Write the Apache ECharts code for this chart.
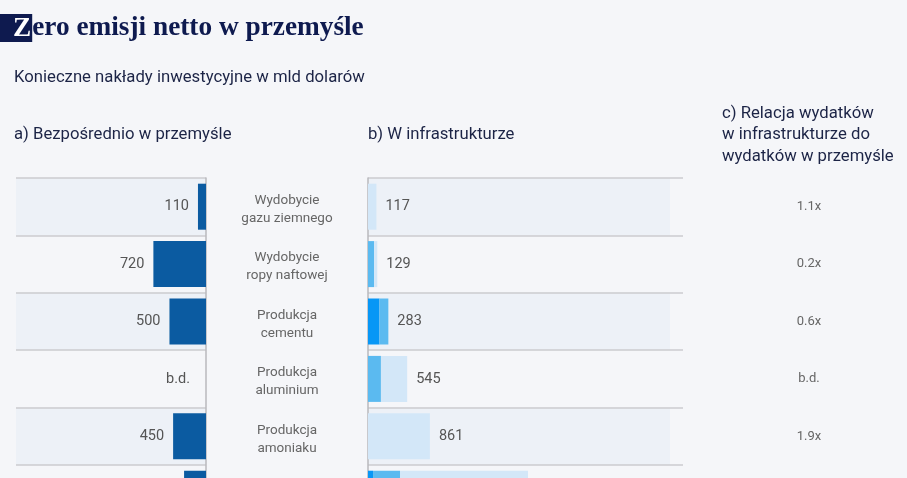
<!DOCTYPE html>
<html>
<head>
<meta charset="utf-8">
<script src="https://cdn.jsdelivr.net/npm/echarts@6/dist/echarts.min.js"></script>
<style>
html,body{margin:0;padding:0;background:#f5f6f9;}
#c{width:907px;height:478px;}
</style>
</head>
<body>
<div id="c"></div>
<script>
// ---- data ----
var categories = ['Wydobycie\ngazu ziemnego', 'Wydobycie\nropy naftowej', 'Produkcja\ncementu', 'Produkcja\naluminium', 'Produkcja\namoniaku', 'Produkcja\nstali'];
var directValues = [110, 720, 500, null, 450, 300];           // a) Bezpośrednio w przemyśle
var infraDark = [0, 0, 160, 0, 0, 70];                          // b) W infrastrukturze – part 1
var infraMedium = [0, 85, 123, 180, 0, 375];                    // part 2
var infraLight = [117, 44, 0, 365, 861, 1780];                  // part 3
var ratioLabels = ['1.1x', '0.2x', '0.6x', 'b.d.', '1.9x', '7.4x']; // c) Relacja

var infraTotals = infraDark.map(function (v, i) { return v + infraMedium[i] + infraLight[i]; });

var NAVY = '#0e1a4f';
var TXT = '#1c2446';
var FONT = 'Roboto';
var BAND = '#edf1f7';
var LINE = '#cbcbcf';
var ROWH = 57.4;
var GTOP = 178;
var GH = ROWH * categories.length; // last row runs past the picture

var chart = echarts.init(document.getElementById('c'));

var leftData = directValues.map(function (v) {
  if (v == null) return { value: 0, label: { formatter: 'b.d.', distance: 16 } };
  return v;
});

var hdr = { fontFamily: FONT, fontWeight: 'normal', fontSize: 16.7, color: TXT };

var option = {
  backgroundColor: '#f5f6f9',
  animation: false,
  title: [
    {
      left: 0, top: 14, padding: 0,
      text: '{z|Z}{t|ero emisji netto w przemyśle}',
      textStyle: {
        rich: {
          z: { fontFamily: 'Liberation Serif', fontWeight: 'bold', fontSize: 27.3, color: '#fff', backgroundColor: NAVY, padding: [1, 1, 0, 13], lineHeight: 28 },
          t: { fontFamily: 'Liberation Serif', fontWeight: 'bold', fontSize: 27.3, color: NAVY, lineHeight: 28 }
        }
      }
    },
    { left: 14, top: 69, padding: 0, text: 'Konieczne nakłady inwestycyjne w mld dolarów', textStyle: hdr },
    { left: 14, top: 126, padding: 0, text: 'a) Bezpośrednio w przemyśle', textStyle: hdr },
    { left: 368, top: 126, padding: 0, text: 'b) W infrastrukturze', textStyle: hdr },
    { left: 722, top: 103, padding: 0, text: 'c) Relacja wydatków\nw infrastrukturze do\nwydatków w przemyśle', textStyle: Object.assign({ lineHeight: 21.5 }, hdr) }
  ],
  grid: [
    { left: 16, top: GTOP, width: 190, height: GH, outerBoundsMode: 'none', containLabel: false },
    { left: 368, top: GTOP, width: 302, height: GH, outerBoundsMode: 'none', containLabel: false },
    { left: 368, top: GTOP, width: 315, height: GH, outerBoundsMode: 'none', containLabel: false }
  ],
  xAxis: [
    { type: 'value', gridIndex: 0, inverse: true, min: 0, max: 2600, show: false },
    { type: 'value', gridIndex: 1, min: 0, max: 4200, show: false },
    { type: 'value', gridIndex: 2, min: 0, max: 1, show: false }
  ],
  yAxis: [
    {
      type: 'category', gridIndex: 0, position: 'right', inverse: true, data: categories,
      axisLine: { show: true, lineStyle: { color: '#b9b9bd', width: 1.5 } },
      axisTick: { show: false },
      axisLabel: {
        align: 'center', margin: 81,
        formatter: function (v) { return v.split('\n').map(function (s) { return '{c|' + s + '}'; }).join('\n'); },
        rich: { c: { align: 'center', fontFamily: FONT, fontSize: 13.5, color: '#666', lineHeight: 18, padding: [6, 0, 0, 0] } }
      },
      splitLine: { show: true, lineStyle: { color: LINE, width: 1.5 } },
      splitArea: { show: true, areaStyle: { color: [BAND, 'rgba(0,0,0,0)'] } }
    },
    {
      type: 'category', gridIndex: 1, position: 'left', inverse: true, data: categories,
      axisLine: { show: true, lineStyle: { color: '#b9b9bd', width: 1.5 } },
      axisTick: { show: false },
      axisLabel: { show: false },
      splitLine: { show: false },
      splitArea: { show: true, areaStyle: { color: [BAND, 'rgba(0,0,0,0)'] } }
    },
    {
      type: 'category', gridIndex: 2, position: 'right', inverse: true, data: categories,
      axisLine: { show: false },
      axisTick: { show: false },
      axisLabel: {
        align: 'center', margin: 126, fontFamily: FONT, fontSize: 13, color: '#666',
        formatter: function (v, i) { return ratioLabels[i]; }
      },
      splitLine: { show: true, lineStyle: { color: LINE, width: 1.5 } },
      splitArea: { show: false }
    }
  ],
  series: [
    {
      type: 'bar', xAxisIndex: 0, yAxisIndex: 0, data: leftData, barWidth: 46,
      itemStyle: { color: '#0b5ba1' }, silent: true,
      label: { show: true, position: 'left', distance: 9, fontFamily: FONT, fontSize: 14.5, color: '#555', padding: [3, 0, 0, 0] }
    },
    { type: 'bar', xAxisIndex: 1, yAxisIndex: 1, stack: 'infra', data: infraDark, barWidth: 46, itemStyle: { color: '#0797f6' }, silent: true },
    { type: 'bar', xAxisIndex: 1, yAxisIndex: 1, stack: 'infra', data: infraMedium, barWidth: 46, itemStyle: { color: '#5bbaf0' }, silent: true },
    { type: 'bar', xAxisIndex: 1, yAxisIndex: 1, stack: 'infra', data: infraLight, barWidth: 46, itemStyle: { color: '#d3e7f8' }, silent: true },
    {
      type: 'bar', xAxisIndex: 1, yAxisIndex: 1, data: infraTotals, barWidth: 46, barGap: '-100%',
      itemStyle: { color: 'rgba(0,0,0,0)' }, silent: true,
      label: { show: true, position: 'right', distance: 9, fontFamily: FONT, fontSize: 14.5, color: '#555', padding: [3, 0, 0, 0] }
    }
  ]
};
chart.setOption(option);
</script>
</body>
</html>
